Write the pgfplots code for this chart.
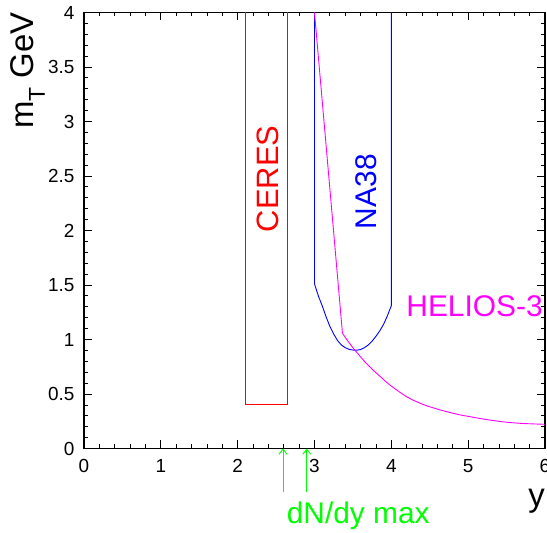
\documentclass[border=0pt]{standalone}
\usepackage{pgfplots}
\pgfplotsset{compat=1.18}
\usepackage{fontspec}
\setmainfont{Liberation Sans}
\usetikzlibrary{arrows.meta,calc}
\definecolor{rred}{rgb}{1,0,0}
\definecolor{rblue}{rgb}{0,0,1}
\definecolor{rmagenta}{rgb}{1,0,1}
\definecolor{rgreen}{rgb}{0,1,0}

\begin{document}
\begin{tikzpicture}
\begin{axis}[
  width=461bp, height=436bp, scale only axis,
  xmin=0, xmax=6, ymin=0, ymax=4,
  xtick={0,1,2,3,4,5,6}, ytick={0,0.5,1,1.5,2,2.5,3,3.5,4},
  minor x tick num=4, minor y tick num=4,
  tick align=inside, tick pos=both,
  major tick length=8bp, minor tick length=4bp,
  axis line style={line width=1.1bp},
  every tick/.style={black, line width=0.8bp},
  /pgf/number format/assume math mode=true,
  ticklabel style={font=\fontsize{19}{19}\selectfont},
  yticklabel style={xshift=-6bp},
  xticklabel style={yshift=-7bp},
  xlabel={y},
  xlabel style={font=\fontsize{33}{33}\selectfont, at={(axis description cs:1,-0.132)}, anchor=base east, inner sep=0pt},
  ylabel={m\raisebox{-0.35em}{\fontsize{23}{23}\selectfont T} GeV},
  ylabel style={font=\fontsize{33}{33}\selectfont, at={(axis description cs:-0.110,1)}, anchor=base east, inner sep=0pt},
  clip=false,
]
% CERES acceptance
\addplot[rred, line width=0.9bp] coordinates {
  (2.1,4) (2.1,0.4) (2.65,0.4) (2.65,4)
};
% NA38 acceptance
\addplot[rblue, line width=0.9bp] coordinates {
  (3.0,4) (3.0,1.51) (3.05,1.40) (3.1,1.31) (3.15,1.21) (3.2,1.12)
  (3.25,1.05) (3.3,0.99) (3.35,0.95) (3.4,0.925) (3.45,0.91) (3.5,0.903)
  (3.55,0.902) (3.6,0.908) (3.65,0.925) (3.7,0.95) (3.75,0.985) (3.8,1.03)
  (3.85,1.08) (3.9,1.14) (3.95,1.22) (4.0,1.31) (4.0,4)
};
% HELIOS-3 acceptance: straight edge, then smooth tail
\addplot[rmagenta, line width=0.9bp] coordinates {(3.0,4.0) (3.364,1.057)};
\addplot[rmagenta, line width=0.9bp, smooth, tension=0.5] coordinates {
  (3.364,1.057) (3.45,0.97) (3.524,0.904) (3.65,0.80) (3.762,0.72)
  (3.88,0.645) (3.98,0.583) (4.2,0.475) (4.41,0.405) (4.63,0.355) (4.87,0.312)
  (5.0,0.295) (5.2,0.27) (5.45,0.245) (5.7,0.23) (6.0,0.222)
};
% dN/dy maxima
\addplot[rgreen, line width=0.9bp, -{Straight Barb[length=5bp,width=8bp]}] coordinates {(2.59,-0.40) (2.59,0)};
\addplot[rgreen, line width=0.9bp, -{Straight Barb[length=5bp,width=8bp]}] coordinates {(2.90,-0.40) (2.90,0)};

\node[rotate=90, anchor=base, rred, inner sep=0pt, font=\fontsize{31}{31}\selectfont] at (axis cs:2.527,2.473) {CERES};
\node[rotate=90, anchor=base, rblue, inner sep=0pt, font=\fontsize{30}{30}\selectfont] at (axis cs:3.806,2.356) {NA38};
\node[anchor=base west, rmagenta, inner sep=0pt, font=\fontsize{30}{30}\selectfont] at (axis cs:4.194,1.209) {HELIOS-3};
\node[anchor=base west, rgreen, inner sep=0pt, font=\fontsize{30}{30}\selectfont] at (axis cs:2.637,-0.686) {dN/dy max};
\end{axis}
\pgfresetboundingbox
\useasboundingbox ($(current axis.south west)+(-84bp,-84.5bp)$) rectangle ($(current axis.north east)+(2bp,12.5bp)$);
\end{tikzpicture}
\end{document}
